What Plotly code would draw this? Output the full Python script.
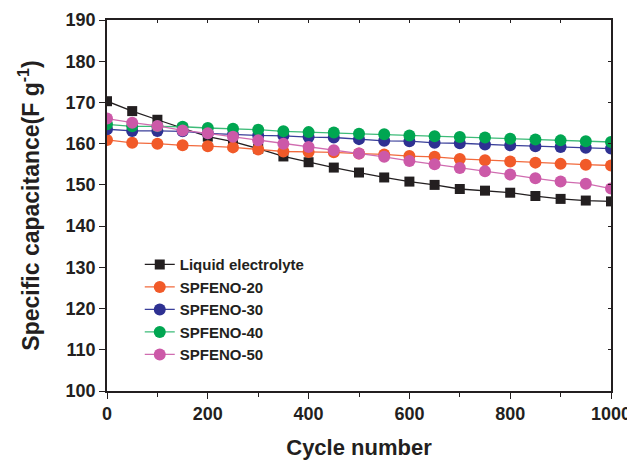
import plotly.graph_objects as go

cycles = [0, 50, 100, 150, 200, 250, 300, 350, 400, 450, 500,
          550, 600, 650, 700, 750, 800, 850, 900, 950, 1000]

liquid = [170.3, 167.9, 165.8, 163.7, 161.7, 160.5, 158.8, 156.9, 155.5, 154.2, 153.0,
          151.8, 150.8, 150.0, 149.0, 148.6, 148.1, 147.3, 146.6, 146.2, 146.0]
spfeno20 = [160.9, 160.2, 160.0, 159.6, 159.4, 159.1, 158.6, 158.1, 158.0, 157.9, 157.6,
            157.4, 157.0, 156.8, 156.3, 156.0, 155.7, 155.4, 155.1, 154.9, 154.7]
spfeno30 = [163.5, 163.1, 163.1, 163.0, 162.5, 162.2, 162.0, 161.9, 161.6, 161.5, 161.1,
            160.7, 160.6, 160.2, 160.1, 159.8, 159.6, 159.4, 159.2, 159.0, 158.8]
spfeno40 = [164.7, 164.2, 164.2, 164.1, 163.8, 163.6, 163.4, 163.0, 162.8, 162.7, 162.4,
            162.3, 162.0, 161.8, 161.6, 161.5, 161.2, 161.0, 160.8, 160.6, 160.4]
spfeno50 = [166.1, 165.1, 164.3, 163.2, 162.5, 161.7, 160.8, 160.0, 159.2, 158.4, 157.6,
            156.8, 155.8, 155.0, 154.1, 153.3, 152.5, 151.6, 150.8, 150.3, 149.1]

names = ["Liquid electrolyte", "SPFENO-20", "SPFENO-30", "SPFENO-40", "SPFENO-50"]
series = [liquid, spfeno20, spfeno30, spfeno40, spfeno50]
marker_colors = ["#231f20", "#f15a29", "#2e3192", "#00a651", "#cc59a8"]
line_colors = ["#231f20", "#f26a3d", "#3a3f9a", "#3dbb78", "#d06cb0"]
symbols = ["square", "circle", "circle", "circle", "circle"]
sizes = [10, 12, 12, 12, 12]

fig = go.Figure()
for name, vals, mc, lc, sym, sz in zip(names, series, marker_colors, line_colors, symbols, sizes):
    fig.add_trace(go.Scatter(
        x=cycles, y=vals, name=name, mode="lines+markers",
        line=dict(color=lc, width=1.3),
        marker=dict(symbol=sym, size=sz, color=mc, line=dict(width=0)),
    ))

# invisible trace to carry the mirrored (top/right) axes
fig.add_trace(go.Scatter(x=[0], y=[100], xaxis="x2", yaxis="y2", mode="markers",
                         marker=dict(opacity=0), showlegend=False, hoverinfo="skip"))

font_family = "Liberation Sans, Arial, sans-serif"
tick_font = dict(family=font_family, size=18, color="#231f20", weight="bold")

# page body has an 8px margin, so the figure is offset by 8px right and down
fig.update_layout(
    width=627, height=452,
    margin=dict(l=99, r=24, t=12, b=69),
    paper_bgcolor="white", plot_bgcolor="white",
    font=dict(family=font_family, color="#231f20"),
    showlegend=True,
    legend=dict(x=0.065, y=0.385, xanchor="left", yanchor="top",
                bgcolor="rgba(0,0,0,0)", borderwidth=0,
                font=dict(family=font_family, size=15, color="#231f20", weight="bold"),
                tracegroupgap=0),
    xaxis=dict(range=[0, 1000], tickvals=[0, 200, 400, 600, 800, 1000],
               ticks="outside", ticklen=6, tickwidth=1.2, tickcolor="#231f20",
               minor=dict(tickvals=[100, 300, 500, 700, 900], ticks="outside", ticklen=4,
                          tickcolor="#231f20", tickwidth=1),
               showline=True, linecolor="#231f20", linewidth=1.5, mirror=True,
               showgrid=False, zeroline=False, tickfont=tick_font, automargin=False,
               ticklabeloverflow="allow",
               title=dict(text="Cycle number", standoff=23,
                          font=dict(family=font_family, size=22, color="#231f20", weight="bold"))),
    yaxis=dict(range=[100, 190], dtick=10, tick0=100,
               ticks="outside", ticklen=6, tickwidth=1.2, tickcolor="#231f20",
               showline=True, linecolor="#231f20", linewidth=1.5, mirror=True,
               showgrid=False, zeroline=False, tickfont=tick_font, automargin=False,
               title=dict(text="Specific capacitance(F g<sup>-1</sup>)", standoff=20,
                          font=dict(family=font_family, size=23, color="#231f20", weight="bold"))),
    xaxis2=dict(range=[0, 1000], overlaying="x", side="top", anchor="y",
                dtick=100, tick0=0, ticks="inside", ticklen=3, tickcolor="#231f20",
                showticklabels=False, showgrid=False, zeroline=False, showline=False,
                automargin=False),
    yaxis2=dict(range=[100, 190], overlaying="y", side="right", anchor="x",
                dtick=10, tick0=100, ticks="inside", ticklen=3, tickcolor="#231f20",
                showticklabels=False, showgrid=False, zeroline=False, showline=False,
                automargin=False),
)

fig.write_html("out.html")
